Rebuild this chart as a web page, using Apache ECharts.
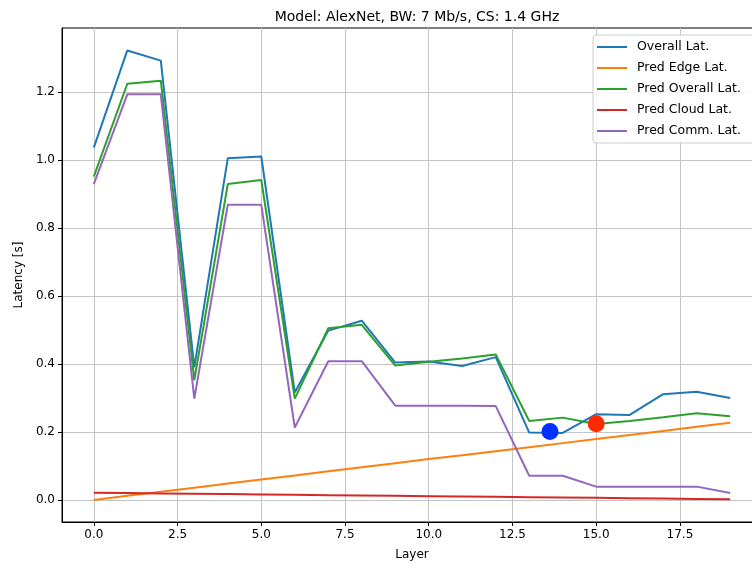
<!DOCTYPE html>
<html>
<head>
<meta charset="utf-8">
<script src="https://cdn.jsdelivr.net/npm/echarts@6/dist/echarts.min.js"></script>
<style>
  html, body { margin: 0; padding: 0; background: #fff; overflow: hidden; }
  #chart { width: 780px; height: 568px; }
</style>
</head>
<body>
<div id="chart"></div>
<script>
const layers = [0, 1, 2, 3, 4, 5, 6, 7, 8, 9, 10, 11, 12, 13, 14, 15, 16, 17, 18, 19];

const overallLat = [1.036, 1.322, 1.292, 0.39, 1.005, 1.01, 0.316, 0.498, 0.527, 0.404, 0.407, 0.394, 0.42, 0.198, 0.197, 0.252, 0.25, 0.311, 0.318, 0.30];
const predEdgeLat = [0.0, 0.012, 0.024, 0.036, 0.048, 0.06, 0.072, 0.084, 0.096, 0.108, 0.12, 0.131, 0.143, 0.155, 0.167, 0.179, 0.191, 0.203, 0.215, 0.227];
const predOverallLat = [0.951, 1.224, 1.233, 0.352, 0.929, 0.941, 0.298, 0.505, 0.515, 0.395, 0.406, 0.416, 0.428, 0.232, 0.242, 0.223, 0.232, 0.243, 0.255, 0.246];
const predCloudLat = [0.021, 0.020, 0.019, 0.018, 0.017, 0.016, 0.015, 0.014, 0.013, 0.012, 0.011, 0.010, 0.009, 0.008, 0.007, 0.006, 0.005, 0.004, 0.003, 0.002];
const predCommLat = [0.929, 1.193, 1.193, 0.298, 0.868, 0.868, 0.213, 0.408, 0.408, 0.277, 0.277, 0.277, 0.276, 0.071, 0.071, 0.039, 0.039, 0.039, 0.039, 0.02];

const bluePoint = [13.62, 0.201];
const redPoint = [15.0, 0.224];

const xTicks = [0, 2.5, 5, 7.5, 10, 12.5, 15, 17.5];
const yTicks = [0, 0.2, 0.4, 0.6, 0.8, 1.0, 1.2];

const names = ['Overall Lat.', 'Pred Edge Lat.', 'Pred Overall Lat.', 'Pred Cloud Lat.', 'Pred Comm. Lat.'];
const colors = ['#1f77b4', '#ff7f0e', '#2ca02c', '#d62728', '#9467bd'];
const lines = [overallLat, predEdgeLat, predOverallLat, predCloudLat, predCommLat];

const font = 'DejaVu Sans';
const chart = echarts.init(document.getElementById('chart'));

let series = lines.map((vals, i) => ({
  name: names[i],
  type: 'line',
  data: layers.map((l, j) => [l, vals[j]]),
  symbol: 'none',
  color: colors[i],
  lineStyle: { width: 2, color: colors[i] },
  z: 2 + i
}));
// the two highlighted points
series.push({
  type: 'scatter', data: [bluePoint], symbolSize: 17,
  itemStyle: { color: '#0030ff', opacity: 1 }, z: 10
});
series.push({
  type: 'scatter', data: [redPoint], symbolSize: 17,
  itemStyle: { color: '#ff2a00', opacity: 1 }, z: 10
});

chart.setOption({
  animation: false,
  backgroundColor: '#fff',
  title: {
    text: 'Model: AlexNet, BW: 7 Mb/s, CS: 1.4 GHz',
    left: 412,
    textAlign: 'center',
    top: 5,
    textStyle: { fontFamily: font, fontSize: 14, fontWeight: 'normal', color: '#000' }
  },
  legend: {
    data: names,
    orient: 'vertical',
    left: 593,
    top: 35,
    icon: 'rect',
    itemWidth: 30,
    itemHeight: 2,
    itemGap: 7,
    padding: [5, 14, 5, 4],
    backgroundColor: 'rgba(255,255,255,0.85)',
    borderColor: '#cccccc',
    borderWidth: 1,
    borderRadius: 3,
    textStyle: { fontFamily: font, fontSize: 12.5, color: '#000', lineHeight: 14, padding: [0, 0, 0, 5] }
  },
  grid: {
    left: 62, top: 28, width: 700, bottom: 46,
    outerBoundsMode: 'none',
    show: true, borderColor: '#000', borderWidth: 1
  },
  xAxis: {
    type: 'value',
    min: -0.95,
    max: 19.95,
    name: 'Layer',
    nameLocation: 'middle',
    nameGap: 27,
    nameTextStyle: { fontFamily: font, fontSize: 12, color: '#000' },
    axisLine: { show: true, onZero: false, lineStyle: { color: '#000' } },
    axisTick: { show: true, length: 4, customValues: xTicks, lineStyle: { color: '#000' } },
    axisLabel: {
      customValues: xTicks, margin: 7,
      fontFamily: font, fontSize: 12, color: '#000',
      formatter: v => v.toFixed(1)
    },
    splitLine: { show: true, lineStyle: { color: '#c4c4c4', width: 1 } }
  },
  yAxis: {
    type: 'value',
    min: -0.065,
    max: 1.388,
    name: 'Latency [s]',
    nameLocation: 'middle',
    nameGap: 37,
    nameTextStyle: { fontFamily: font, fontSize: 12, color: '#000' },
    axisLine: { show: true, onZero: false, lineStyle: { color: '#000' } },
    axisTick: { show: true, length: 4, customValues: yTicks, lineStyle: { color: '#000' } },
    axisLabel: {
      customValues: yTicks, margin: 7,
      fontFamily: font, fontSize: 12, color: '#000',
      formatter: v => v.toFixed(1)
    },
    splitLine: { show: true, lineStyle: { color: '#c4c4c4', width: 1 } }
  },
  series: series
});
</script>
</body>
</html>
